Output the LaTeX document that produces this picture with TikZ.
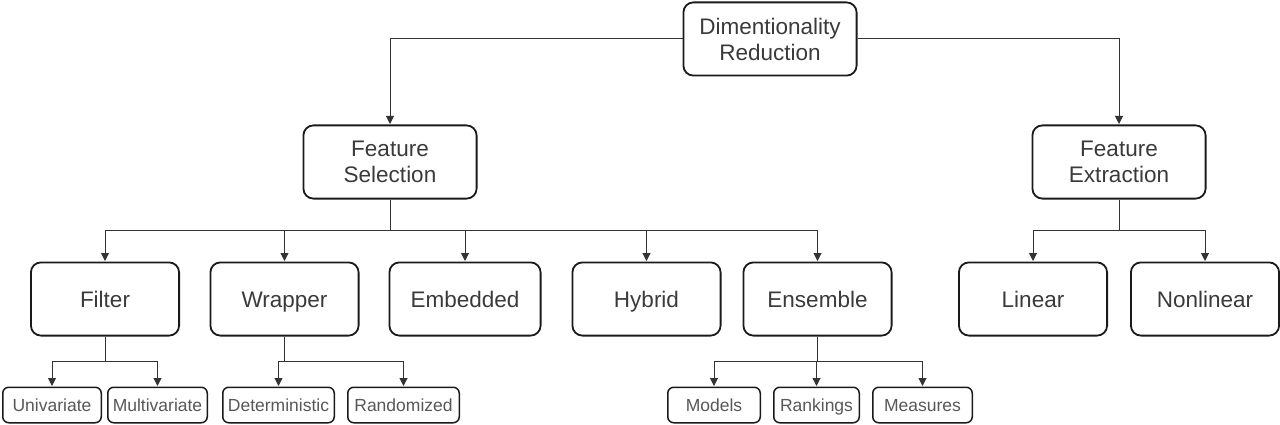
\documentclass[tikz,border=0pt]{standalone}
\usepackage{fontspec}
\setmainfont{Liberation Sans}
\usetikzlibrary{positioning, arrows.meta}
\definecolor{boxline}{HTML}{1A1A1A}
\definecolor{wire}{HTML}{333333}
\definecolor{txt}{HTML}{3A3A3A}

\begin{document}
\begin{tikzpicture}[x=1pt, y=-1pt, >={Triangle[length=8pt, width=8pt]},
	block/.style={draw=boxline, line width=1.8pt, rounded corners=10pt, minimum width=148.2pt, minimum height=73.2pt, align=center, text=txt, text height=16.2pt, text depth=0pt, font=\fontsize{22.5}{26}\selectfont},
	bigblock/.style={block, minimum width=173.2pt, text height={}, text depth={}},
	leaf/.style={draw=boxline, line width=1.5pt, rounded corners=6pt, minimum height=35.5pt, inner xsep=2pt, text=txt!85, text height=12.6pt, text depth=0pt, font=\fontsize{17.5}{20}\selectfont},
	arrow/.style={->, wire, line width=1pt, shorten >=0.5pt}]
	
	\useasboundingbox (0,0) rectangle (1280,425);
	
	\node[bigblock] (dimred) at (770,39) {Dimentionality\\Reduction};
	\node[bigblock] (fsel) at (390,162) {Feature\\Selection};
	\node[bigblock] (fext) at (1119,162) {Feature\\Extraction};
	
	\node[block] (filter) at (105,299) {Filter};
	\node[block, right=29.5pt of filter] (wrapper) {Wrapper};
	\node[block, minimum width=151.2pt, right=29pt of wrapper] (embedded) {Embedded};
	\node[block, right=30pt of embedded] (hybrid) {Hybrid};
	\node[block, right=21pt of hybrid] (ensemble) {Ensemble};
	
	\node[block] (linear) at (1033,299) {Linear};
	\node[block, right=22pt of linear] (nonlinear) {Nonlinear};
	
	\node[leaf, minimum width=98.5pt] (univ) at (52,405) {Univariate};
	\node[leaf, minimum width=99.5pt, right=5pt of univ] (multi) {Multivariate};
	\node[leaf, minimum width=111.5pt] (determ) at (278.5,405) {Deterministic};
	\node[leaf, minimum width=111.5pt, right=12pt of determ] (random) {Randomized};
	\node[leaf, minimum width=92.5pt] (models) at (714,405) {Models};
	\node[leaf, minimum width=85.5pt, right=12pt of models] (rankings) {Rankings};
	\node[leaf, minimum width=99.5pt, right=12pt of rankings] (measures) {Measures};
	
	\draw[arrow] (dimred.west) -| (fsel.north);
	\draw[arrow] (dimred.east) -| (fext.north);
	
	\foreach \c in {filter, wrapper, embedded, hybrid, ensemble}
		\draw[arrow] (fsel.south) -- ++(0,31) -| (\c.north);
	\foreach \c in {linear, nonlinear}
		\draw[arrow] (fext.south) -- ++(0,31) -| (\c.north);
	
	\foreach \c in {univ, multi}
		\draw[arrow] (filter.south) -- ++(0,25) -| (\c.north);
	\foreach \c in {determ, random}
		\draw[arrow] (wrapper.south) -- ++(0,25) -| (\c.north);
	\foreach \c in {models, rankings, measures}
		\draw[arrow] (ensemble.south) -- ++(0,25) -| (\c.north);
\end{tikzpicture}
\end{document}
